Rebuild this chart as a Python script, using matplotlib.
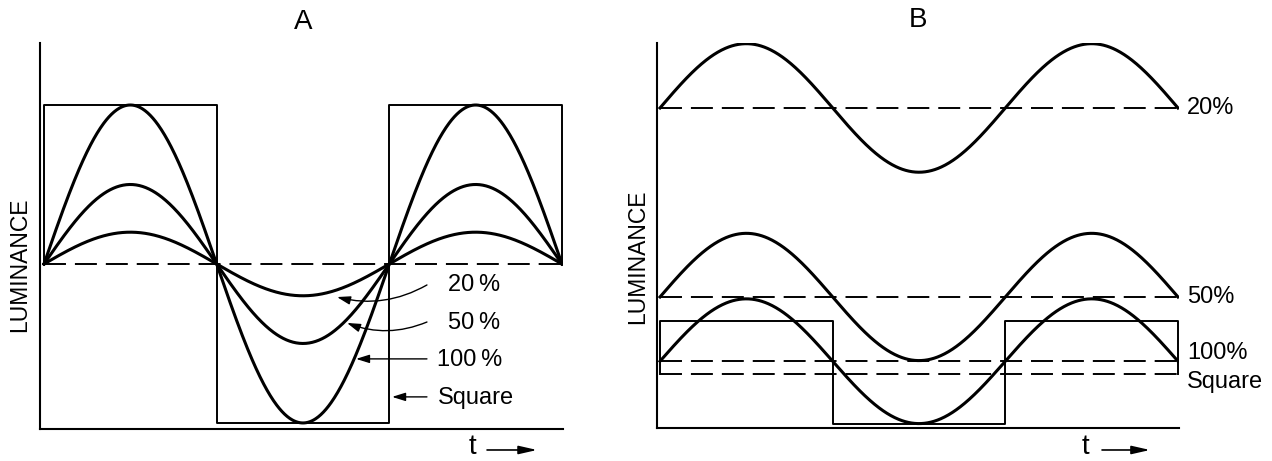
import numpy as np
import matplotlib.pyplot as plt

plt.rcParams['font.family'] = ['Liberation Sans', 'DejaVu Sans']

# time axis in cycles of the grating, square wave changes every half cycle
cycles = 1.5
edges = [0.0, 0.5, 1.0, 1.5]

# panel A - sinewaves of different contrast around one mean level
a_mean = 0.0
a_amps = [0.2, 0.5, 1.0]
a_labels = ['20\u2009%', '50\u2009%', '100\u2009%']
a_square = [1.0, -1.0, 1.0]

# panel B - same amplitude, raised mean luminance
b_means = [5.08, 2.08, 1.06]
b_amps = [1.02, 1.01, 0.99]
b_labels = ['20%', '50%', '100%']
b_sq_mean = 0.86
b_square = [1.70, 0.06, 1.70]

FS = 17
DASH = (11.3, 4.6)
HEAD = '-|>,head_length=0.8,head_width=0.25'


def square_path(mean, levels):
    # start and end at the mean level like the drawing does
    xs, ys = [edges[0]], [mean]
    for i, lev in enumerate(levels):
        xs += [edges[i], edges[i + 1]]
        ys += [lev, lev]
    xs.append(edges[-1])
    ys.append(mean)
    return xs, ys


def clean_axes(ax):
    for s in ['top', 'right']:
        ax.spines[s].set_visible(False)
    for s in ['left', 'bottom']:
        ax.spines[s].set_linewidth(1.5)
    ax.set_xticks([])
    ax.set_yticks([])


fig = plt.figure(figsize=(12.72, 4.61), dpi=100)
axA = fig.add_axes([40 / 1272, 32 / 461, 523 / 1272, 386 / 461])
axB = fig.add_axes([657 / 1272, 33 / 461, 522 / 1272, 385 / 461])

t = np.linspace(0, cycles, 800)

# ---- A
for amp in a_amps:
    axA.plot(t, a_mean + amp * np.sin(2 * np.pi * t), color='k', lw=2.2)
axA.plot([0, cycles], [a_mean, a_mean], color='k', lw=1.4, dashes=DASH)
sx, sy = square_path(a_mean, a_square)
axA.plot(sx, sy, color='k', lw=1.4)
axA.set_xlim(-0.0116, 1.503)
axA.set_ylim(-1.038, 1.390)
clean_axes(axA)

# labels with arrows pointing at the troughs
lab_x = [1.170, 1.170, 1.138]
lab_y = [-0.132, -0.371, -0.604]
tails = [(1.109, -0.132), (1.109, -0.365), (1.109, -0.597)]
tips = [(0.8485, -0.208), (0.8775, -0.371), (0.9036, -0.597)]
rads = [-0.2, -0.2, 0.0]
for lab, x, y, tail, tip, rad in zip(a_labels, lab_x, lab_y, tails, tips, rads):
    axA.text(x, y, lab, ha='left', va='center', fontsize=FS)
    axA.annotate('', xy=tip, xytext=tail,
                 arrowprops=dict(arrowstyle=HEAD, color='k', lw=1.0, shrinkA=0, shrinkB=0,
                                 connectionstyle='arc3,rad=%s' % rad))
axA.text(1.141, -0.843, 'Square', ha='left', va='center', fontsize=FS)
axA.annotate('', xy=(1.008, -0.836), xytext=(1.109, -0.836),
             arrowprops=dict(arrowstyle=HEAD, color='k', lw=1.0, shrinkA=0, shrinkB=0))

axA.text(1.242, -1.15, 't', ha='center', va='center', fontsize=20)
axA.annotate('', xy=(1.428, -1.170), xytext=(1.283, -1.170), annotation_clip=False,
             arrowprops=dict(arrowstyle='-|>,head_length=1.1,head_width=0.25',
                             color='k', lw=1.2, shrinkA=0, shrinkB=0))

# ---- B
for m, amp, lab in zip(b_means, b_amps, b_labels):
    axB.plot(t, m + amp * np.sin(2 * np.pi * t), color='k', lw=2.2)
    axB.plot([0, cycles], [m, m], color='k', lw=1.4, dashes=DASH)
    axB.text(1.526, m + (0.13 if lab == '100%' else 0), lab, ha='left', va='center', fontsize=FS)
sx, sy = square_path(b_sq_mean, b_square)
axB.plot(sx, sy, color='k', lw=1.4)
axB.plot([0, cycles], [b_sq_mean, b_sq_mean], color='k', lw=1.4, dashes=DASH)
axB.text(1.526, 0.735, 'Square', ha='left', va='center', fontsize=FS)
axB.set_xlim(-0.0087, 1.5029)
axB.set_ylim(0, 6.111)
clean_axes(axB)

axB.text(1.231, -0.30, 't', ha='center', va='center', fontsize=20)
axB.annotate('', xy=(1.419, -0.349), xytext=(1.28, -0.349), annotation_clip=False,
             arrowprops=dict(arrowstyle='-|>,head_length=1.1,head_width=0.25',
                             color='k', lw=1.2, shrinkA=0, shrinkB=0))

# titles and y labels
fig.text(303 / 1272, 1 - 22 / 461, 'A', ha='center', va='center', fontsize=20)
fig.text(918 / 1272, 1 - 20 / 461, 'B', ha='center', va='center', fontsize=20)
fig.text(20 / 1272, 1 - 265 / 461, 'LUMINANCE', rotation=90, ha='center', va='center', fontsize=16.5)
fig.text(638 / 1272, 1 - 257 / 461, 'LUMINANCE', rotation=90, ha='center', va='center', fontsize=16.5)

fig.savefig('out.png', dpi=100)
